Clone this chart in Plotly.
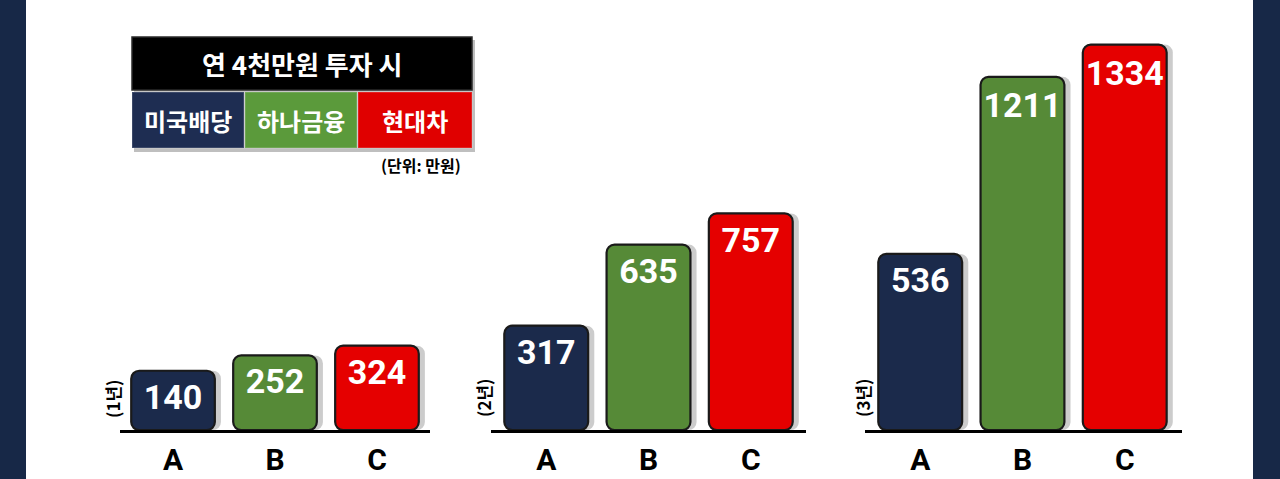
import plotly.graph_objects as go

# ---------------- data ----------------
categories = ["A", "B", "C"]
periods = ["(1년)", "(2년)", "(3년)"]
series_names = ["미국배당", "하나금융", "현대차"]
year1 = [140, 252, 324]
year2 = [317, 635, 757]
year3 = [536, 1211, 1334]
title_text = "연 4천만원 투자 시"
unit_text = "(단위: 만원)"

# ---------------- style ----------------
bar_colors = ["#1b2a4b", "#568a37", "#e50000"]
box_colors = ["#1e2d52", "#5b9a3b", "#e00000"]
navy_edge = "#172847"
W, H = 1280, 479


def px(x):
    return x / W


def py(y):
    return 1 - y / H


groups = [year1, year2, year3]
xdomains = [(120, 430), (491, 806), (865, 1182)]
xranges = [(-0.52, 2.52), (-0.54, 2.54), (-0.54, 2.56)]
yranges = [(-294, 2856), (-92, 1594), (-135, 1504)]
label_pos = [(112, 399), (483, 398), (862, 398)]
baseline_px = 430

fig = go.Figure()
layout_axes = {}
for i, vals in enumerate(groups):
    sfx = "" if i == 0 else str(i + 1)
    xa, ya = "x" + sfx, "y" + sfx
    r0, r1 = yranges[i]
    lengths = [v - r0 for v in vals]
    # shadow
    fig.add_trace(go.Bar(
        x=categories, y=lengths, base=r0, offset=-0.41 + 0.06, width=0.82,
        marker=dict(color="rgba(0,0,0,0.2)", line=dict(width=0)),
        xaxis=xa, yaxis=ya, hoverinfo="skip", showlegend=False,
    ))
    # main bars
    fig.add_trace(go.Bar(
        x=categories, y=lengths, base=r0, offset=-0.41, width=0.82,
        marker=dict(color=bar_colors, line=dict(color="#1a1a1a", width=2.2)),
        text=[str(v) for v in vals], textposition="inside",
        insidetextanchor="end", textangle=0, constraintext="none",
        textfont=dict(family="Roboto", size=34, color="white", weight="bold"),
        xaxis=xa, yaxis=ya, hoverinfo="skip", showlegend=False,
    ))
    d0, d1 = xdomains[i]
    layout_axes["xaxis" + sfx] = dict(
        domain=[px(d0), px(d1)], range=list(xranges[i]), anchor=ya,
        showline=True, linecolor="black", linewidth=3, ticks="",
        showgrid=False, zeroline=False, fixedrange=True,
        tickfont=dict(family="Roboto", size=30, color="black", weight="bold"),
        ticklabelstandoff=1,
    )
    layout_axes["yaxis" + sfx] = dict(
        domain=[py(baseline_px), 1], range=[r0, r1], anchor=xa,
        visible=False, fixedrange=True,
    )

shapes = [
    # side strips
    dict(type="rect", xref="paper", yref="paper", x0=0, x1=px(26), y0=0, y1=1,
         fillcolor=navy_edge, line=dict(width=0), layer="below"),
    dict(type="rect", xref="paper", yref="paper", x0=px(1253), x1=1, y0=0, y1=1,
         fillcolor=navy_edge, line=dict(width=0), layer="below"),
    # legend shadow
    dict(type="rect", xref="paper", yref="paper", x0=px(134), x1=px(475),
         y0=py(152), y1=py(40), fillcolor="rgba(0,0,0,0.25)", line=dict(width=0)),
    # legend title box
    dict(type="rect", xref="paper", yref="paper", x0=px(132), x1=px(472),
         y0=py(90), y1=py(37), fillcolor="#000000",
         line=dict(color="#2a2a2a", width=1.5)),
]
box_x = [(132, 244), (245, 357), (358, 472)]
for (x0, x1), c in zip(box_x, box_colors):
    shapes.append(dict(type="rect", xref="paper", yref="paper", x0=px(x0), x1=px(x1),
                       y0=py(148), y1=py(92), fillcolor=c,
                       line=dict(color="rgba(255,255,255,0.18)", width=1.5)))

annotations = [
    dict(text=title_text, x=px(302), y=py(63), xref="paper", yref="paper",
         showarrow=False, xanchor="center", yanchor="middle",
         font=dict(family="Noto Sans CJK KR", size=26, color="white", weight="bold")),
    dict(text=unit_text, x=px(421), y=py(165), xref="paper", yref="paper",
         showarrow=False, xanchor="center", yanchor="middle",
         font=dict(family="Noto Sans CJK KR", size=16, color="black", weight="bold")),
]
for (x0, x1), name in zip(box_x, series_names):
    annotations.append(dict(text=name, x=px((x0 + x1) / 2), y=py(120),
                            xref="paper", yref="paper", showarrow=False,
                            xanchor="center", yanchor="middle",
                            font=dict(family="Noto Sans CJK KR", size=24,
                                      color="white", weight="bold")))
for (lx, ly), p in zip(label_pos, periods):
    annotations.append(dict(text=p, x=px(lx), y=py(ly), xref="paper", yref="paper",
                            showarrow=False, textangle=-90,
                            xanchor="center", yanchor="middle",
                            font=dict(family="Noto Sans CJK KR", size=17,
                                      color="black", weight="bold")))

fig.update_layout(
    width=W, height=H, margin=dict(l=0, r=0, t=0, b=0),
    paper_bgcolor="white", plot_bgcolor="rgba(0,0,0,0)",
    barmode="overlay", barcornerradius=8, showlegend=False,
    shapes=shapes, annotations=annotations,
    **layout_axes,
)

fig.write_html("out.html", config={"displayModeBar": False},
               post_script="document.body.style.margin='0';document.body.style.overflow='hidden';")
